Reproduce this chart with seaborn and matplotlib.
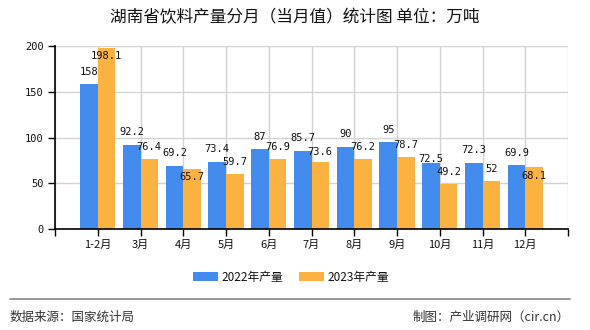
import matplotlib
matplotlib.use("Agg")
import matplotlib.pyplot as plt
import seaborn as sns
import pandas as pd
import numpy as np

categories = ["1-2月", "3月", "4月", "5月", "6月", "7月", "8月", "9月", "10月", "11月", "12月"]
values_2022 = [158, 92.2, 69.2, 73.4, 87, 85.7, 90, 95, 72.5, 72.3, 69.9]
values_2023 = [198.1, 76.4, 65.7, 59.7, 76.9, 73.6, 76.2, 78.7, 49.2, 52, 68.1]
labels_2022 = ["158", "92.2", "69.2", "73.4", "87", "85.7", "90", "95", "72.5", "72.3", "69.9"]
labels_2023 = ["198.1", "76.4", "65.7", "59.7", "76.9", "73.6", "76.2", "78.7", "49.2", "52", "68.1"]
series_names = ["2022年产量", "2023年产量"]
y_ticks = [0, 50, 100, 150, 200]

# label vertical offsets in pixels (layout, avoiding overlaps like the original)
dy_2022 = [12.5, 12.5, 12.5, 12.5, 12.5, 12.5, 12.5, 12.5, 4, 12.5, 12.5]
dy_2023 = [-8.5, 12, -8.5, 12, 11.5, 9.5, 12, 12, 12, 12.5, -9.5]

sns.set_theme(style="white")
plt.rcParams['font.family'] = ['Noto Sans CJK SC', 'DejaVu Sans']

df = pd.DataFrame({
    "月份": categories * 2,
    "产量": values_2022 + values_2023,
    "系列": [series_names[0]] * len(categories) + [series_names[1]] * len(categories),
})

colors = ["#448BEE", "#FBB241"]

fig = plt.figure(figsize=(5.9, 3.3), dpi=100)
ax = fig.add_axes([55 / 590, 1 - 229 / 330, (568 - 55) / 590, (229 - 46) / 330])

sns.barplot(data=df, x="月份", y="产量", hue="系列", order=categories,
            hue_order=series_names, palette=colors, width=0.82, saturation=1,
            linewidth=0, edgecolor="none", ax=ax, zorder=2, legend=True)

ax.set_xlim(-1, len(categories))
ax.set_ylim(0, 200)
ax.set_yticks(y_ticks)
ax.set_yticklabels([str(v) for v in y_ticks], family="DejaVu Sans Mono", fontsize=7.5, color="#111111")
ax.set_xticks(list(range(-1, len(categories) + 1)))
ax.set_xticklabels([""] + categories + [""], fontsize=8, color="#111111")
ax.set_xlabel("")
ax.set_ylabel("")

ax.grid(True, color="#D3D3D3", linewidth=1, zorder=0)
ax.set_axisbelow(True)
for s in ["top", "right"]:
    ax.spines[s].set_visible(False)
for s in ["left", "bottom"]:
    ax.spines[s].set_color("#000000")
    ax.spines[s].set_linewidth(1.2)
ax.tick_params(axis="both", which="both", length=5, width=1, color="#000000",
               direction="out", bottom=True, left=True, pad=3)

# data labels
for cont, labs, dys in zip(ax.containers, [labels_2022, labels_2023], [dy_2022, dy_2023]):
    for bar, lab, dy in zip(cont, labs, dys):
        ax.annotate(lab, (bar.get_x() + bar.get_width() / 2, bar.get_height()),
                    xytext=(0, dy), textcoords="offset pixels", ha="center", va="center",
                    family="DejaVu Sans Mono", fontsize=7.5, color="#111111", zorder=5)

leg = ax.legend(loc="center", bbox_to_anchor=(291 / 590, 1 - 277 / 330),
                bbox_transform=fig.transFigure, ncol=2, frameon=False,
                fontsize=8.5, handlelength=2.1, handleheight=0.8,
                columnspacing=1.4, handletextpad=0.3)
for t in leg.get_texts():
    t.set_color("#111111")

fig.text(0.5, 1 - 18 / 330, "湖南省饮料产量分月（当月值）统计图 单位：万吨",
         ha="center", va="center", fontsize=12, color="#111111")

fig.add_artist(plt.Line2D([10 / 590, 570 / 590], [1 - 299 / 330, 1 - 299 / 330],
                          transform=fig.transFigure, color="#888888", linewidth=1.2))
fig.text(10 / 590, 1 - 317 / 330, "数据来源：国家统计局", ha="left", va="center",
         fontsize=9, color="#333333")
fig.text(570 / 590, 1 - 317 / 330, "制图：产业调研网（cir.cn）", ha="right", va="center",
         fontsize=9, color="#333333")

fig.savefig("out.png", dpi=100)
